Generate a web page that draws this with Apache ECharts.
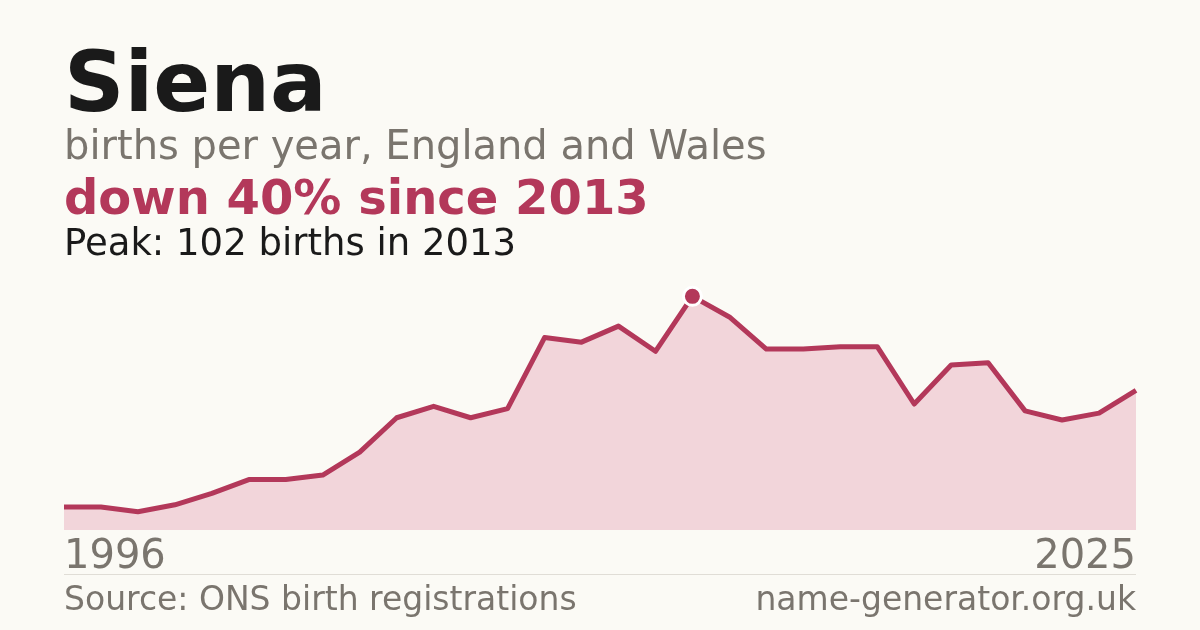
<!DOCTYPE html>
<html>
<head>
<meta charset="utf-8">
<script src="https://cdn.jsdelivr.net/npm/echarts@6/dist/echarts.min.js"></script>
<style>
  html, body { margin: 0; padding: 0; background: #fbfaf5; }
  #chart { width: 1200px; height: 630px; }
</style>
</head>
<body>
<div id="chart"></div>
<script>
// births of the name per year
var years = ['1996', '1997', '1998', '1999', '2000', '2001', '2002', '2003', '2004', '2005',
             '2006', '2007', '2008', '2009', '2010', '2011', '2012', '2013', '2014', '2015',
             '2016', '2017', '2018', '2019', '2020', '2021', '2022', '2023', '2024', '2025']
var births = [10, 10, 8, 11, 16, 22, 22, 24, 34, 49,
              54, 49, 53, 84, 82, 89, 78, 102, 93, 79,
              79, 80, 80, 55, 72, 73, 52, 48, 51, 61]

var nameText = 'Siena'
var subText = 'births per year, England and Wales'
var changeText = 'down 40% since 2013'
var peakText = 'Peak: 102 births in 2013'
var sourceText = 'Source: ONS birth registrations'
var siteText = 'name-generator.org.uk'

var red = '#b3385a'
var grey = '#7a756e'
var font = '"DejaVu Sans", sans-serif'

var peakIdx = births.indexOf(Math.max.apply(null, births))
var lastIdx = years.length - 1

var chart = echarts.init(document.getElementById('chart'), null, {renderer: 'canvas'})

var option = {
    backgroundColor: '#fbfaf5',
    animation: false,
    grid: {left: 64, right: 64, top: 278, bottom: 100, containLabel: false},
    xAxis: {
        type: 'category',
        data: years,
        boundaryGap: false,
        axisLine: {show: false},
        axisTick: {show: false},
        splitLine: {show: false},
        axisLabel: {
            interval: function (i) { return i === 0 || i === lastIdx },
            margin: 8,
            formatter: function (v, i) { return i === 0 ? '{l|' + v + '}' : '{r|' + v + '}' },
            rich: {
                l: {fontFamily: font, fontSize: 40, color: grey, width: 100, align: 'left', padding: [0, 0, 0, 100]},
                r: {fontFamily: font, fontSize: 40, color: grey, width: 100, align: 'right', padding: [0, 100, 0, 0]}
            }
        }
    },
    yAxis: {
        type: 'value',
        min: 0,
        max: 110,
        show: false,
        splitLine: {show: false}
    },
    series: [{
        type: 'line',
        data: births,
        showSymbol: false,
        lineStyle: {color: red, width: 5, join: 'round'},
        areaStyle: {color: '#f2d5da', opacity: 1},
        markPoint: {
            symbol: 'circle',
            symbolSize: 18,
            itemStyle: {color: red, borderColor: '#fff', borderWidth: 3},
            label: {show: false},
            data: [{coord: [peakIdx, births[peakIdx]]}]
        }
    }],
    graphic: [
        {type: 'text', left: 64, top: 47, style: {text: nameText, fill: '#1a1a1a', font: 'bold 84px ' + font}},
        {type: 'text', left: 64, top: 129, style: {text: subText, fill: grey, font: '40px ' + font}},
        {type: 'text', left: 64, top: 178, style: {text: changeText, fill: red, font: 'bold 48px ' + font}},
        {type: 'text', left: 64, top: 227, style: {text: peakText, fill: '#1a1a1a', font: '37px ' + font}},
        {type: 'line', shape: {x1: 64, y1: 574.5, x2: 1136, y2: 574.5}, style: {stroke: '#e0ddd6', lineWidth: 1}},
        {type: 'text', left: 64, top: 585, style: {text: sourceText, fill: grey, font: '33px ' + font}},
        {type: 'text', right: 64, top: 585, style: {text: siteText, fill: grey, font: '33px ' + font}}
    ]
}

chart.setOption(option)
</script>
</body>
</html>
